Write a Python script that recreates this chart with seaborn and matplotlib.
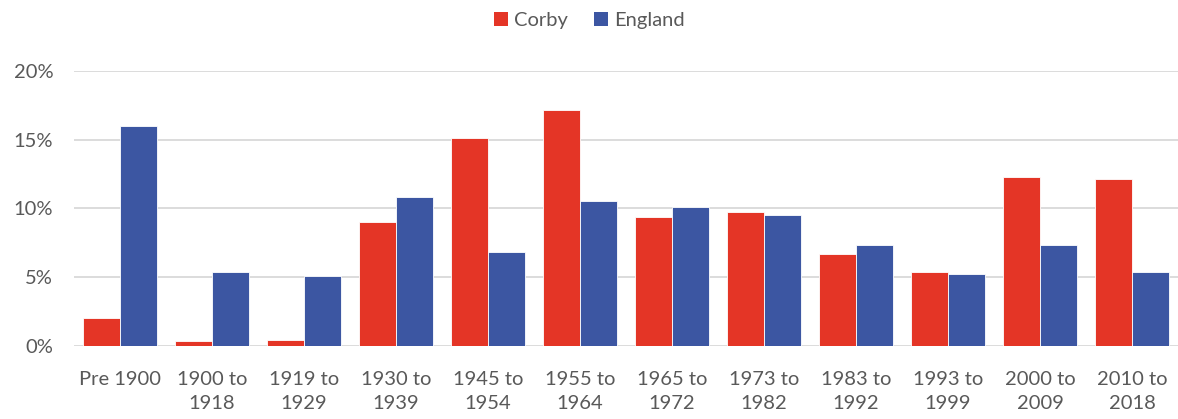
import matplotlib
matplotlib.use("Agg")
import matplotlib.pyplot as plt
import seaborn as sns
import pandas as pd

categories = ["Pre 1900", "1900 to\n1918", "1919 to\n1929", "1930 to\n1939", "1945 to\n1954",
              "1955 to\n1964", "1965 to\n1972", "1973 to\n1982", "1983 to\n1992", "1993 to\n1999",
              "2000 to\n2009", "2010 to\n2018"]
corby = [2.0, 0.4, 0.45, 9.0, 15.1, 17.15, 9.4, 9.7, 6.65, 5.35, 12.25, 12.1]
england = [15.95, 5.4, 5.1, 10.8, 6.85, 10.55, 10.1, 9.5, 7.35, 5.25, 7.35, 5.4]
series_names = ["Corby", "England"]
colors = ["#E43526", "#3C56A2"]
y_ticks = [0, 5, 10, 15, 20]

sns.set_theme(style="white")
plt.rcParams['font.family'] = ['Lato', 'DejaVu Sans']

df = pd.DataFrame({
    "category": categories * 2,
    "value": corby + england,
    "series": [series_names[0]] * len(categories) + [series_names[1]] * len(categories),
})

fig = plt.figure(figsize=(11.78, 4.19), dpi=100)
ax = fig.add_axes([0.0628, 0.1742, 0.9372, 0.657])

sns.barplot(data=df, x="category", y="value", hue="series", order=categories,
            hue_order=series_names, palette=colors, width=0.8, ax=ax,
            edgecolor="white", linewidth=0.6, saturation=1, legend=False)

ax.set_ylim(0, 20)
ax.set_xlim(-0.5, len(categories) - 0.5)
ax.set_yticks(y_ticks)
ax.set_yticklabels([f"{t}%" for t in y_ticks])
ax.yaxis.grid(True, color="#D9D9D9", linewidth=1.3)
ax.set_axisbelow(True)
for s in ax.spines.values():
    s.set_visible(False)
ax.tick_params(axis="both", length=0, labelsize=14.5, colors="#595959")
ax.tick_params(axis="y", pad=15)
ax.tick_params(axis="x", pad=18)
for lab in ax.get_xticklabels():
    lab.set_linespacing(1.5)
ax.set_xlabel("")
ax.set_ylabel("")

from matplotlib.patches import Patch
handles = [Patch(facecolor=c, edgecolor="none") for c in colors]
fig.legend(handles, series_names, loc="upper center", bbox_to_anchor=(0.5, 1.015), ncol=2,
           frameon=False, fontsize=14.5, handlelength=0.7, handleheight=0.7,
           handletextpad=0.3, columnspacing=1.3, labelcolor="#595959")

fig.savefig("out.png", dpi=100)
